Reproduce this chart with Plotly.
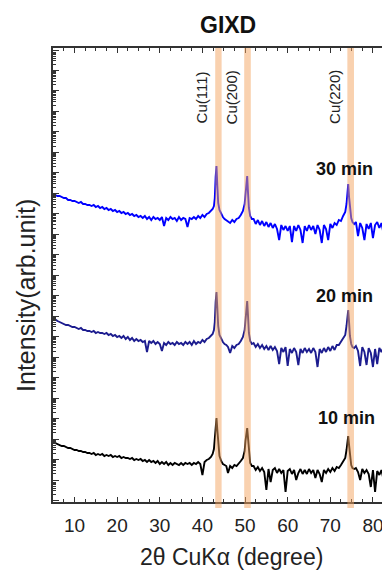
import math
import plotly.graph_objects as go

# ---------------- data ----------------
two_theta = [
    5.0, 5.5, 6.0, 6.5, 7.0, 7.5, 8.0, 8.5, 9.0, 9.5,
    10.0, 10.5, 11.0, 11.5, 12.0, 12.5, 13.0, 13.5, 14.0, 14.5,
    15.0, 15.5, 16.0, 16.5, 17.0, 17.5, 18.0, 18.5, 19.0, 19.5,
    20.0, 20.5, 21.0, 21.5, 22.0, 22.5, 23.0, 23.5, 24.0, 24.5,
    25.0, 25.5, 26.0, 26.5, 27.0, 27.5, 28.0, 28.5, 29.0, 29.5,
    30.0, 30.5, 31.0, 31.5, 32.0, 32.5, 33.0, 33.5, 34.0, 34.5,
    35.0, 35.5, 36.0, 36.5, 37.0, 37.5, 38.0, 38.5, 39.0, 39.5,
    40.0, 40.5, 41.0, 41.5, 42.0,
    42.4, 42.7, 42.9, 43.1, 43.3, 43.5, 43.7, 44.0, 44.4, 44.8, 45.2, 45.6,
    46.0, 46.5, 47.0, 47.5, 48.0, 48.5, 49.0, 49.5,
    49.9, 50.1, 50.3, 50.5, 50.7, 50.9, 51.2, 51.6,
    52.0, 52.5, 53.0, 53.5, 54.0, 54.5, 55.0, 55.5, 56.0, 56.5,
    57.0, 57.5, 58.0, 58.5, 59.0, 59.5, 60.0, 60.5, 61.0, 61.5,
    62.0, 62.5, 63.0, 63.5, 64.0, 64.5, 65.0, 65.5, 66.0, 66.5,
    67.0, 67.5, 68.0, 68.5, 69.0, 69.5, 70.0, 70.5, 71.0, 71.5,
    72.0, 72.5, 73.0,
    73.5, 73.8, 74.0, 74.2, 74.4, 74.6, 74.9, 75.2, 75.6,
    76.0, 76.5, 77.0, 77.5, 78.0, 78.5, 79.0, 79.5, 80.0, 80.5,
    81.0, 81.5, 82.0, 82.5, 83.0, 83.5, 84.0,
]

intensity_30min = [
    308, 307, 306, 306, 305, 304, 304, 302, 302, 301,
    301, 300, 299, 300, 298, 298, 297, 297, 296, 297,
    295, 296, 294, 295, 293, 294, 292, 293, 291, 292,
    290, 291, 289, 290, 288, 289, 287, 288, 286, 287,
    285, 286, 284, 286, 283, 285, 282, 285, 283, 284,
    282, 285, 276, 284, 282, 285, 283, 284, 281, 285,
    282, 284, 283, 275, 284, 283, 285, 283, 286, 284,
    287, 285, 288, 289, 291,
    293, 296, 304, 325, 336, 316, 299, 292, 288, 285, 283, 282,
    281, 279, 282, 280, 283, 284, 287, 291,
    298, 307, 320, 326, 309, 294, 286, 283,
    283, 278, 282, 277, 281, 276, 280, 275, 279, 274,
    278, 273, 262, 277, 272, 276, 271, 276, 260, 276,
    271, 277, 272, 259, 276, 271, 277, 272, 276, 268,
    277, 272, 259, 277, 273, 262, 278, 274, 279, 277,
    282, 281, 286,
    290, 298, 310, 318, 305, 292, 284, 280, 278,
    280, 266, 279, 274, 262, 278, 273, 279, 264, 277,
    280, 274, 279, 268, 278, 280, 275,
]

intensity_20min = [
    184, 182, 181, 180, 179, 178, 177, 177, 176, 175,
    175, 174, 173, 174, 172, 172, 171, 171, 170, 171,
    169, 170, 169, 169, 168, 169, 167, 168, 166, 167,
    165, 166, 164, 166, 163, 165, 162, 164, 161, 163,
    161, 162, 160, 161, 150, 161, 159, 161, 158, 160,
    158, 151, 159, 157, 160, 158, 159, 157, 160, 158,
    159, 157, 160, 158, 160, 157, 161, 158, 160, 159,
    162, 160, 163, 164, 166,
    168, 172, 180, 200, 210, 194, 176, 167, 163, 160, 158, 157,
    155, 149, 156, 154, 157, 158, 161, 165,
    172, 182, 195, 201, 186, 169, 161, 158,
    159, 155, 158, 154, 157, 153, 156, 152, 156, 152,
    155, 151, 138, 154, 150, 155, 136, 153, 149, 154,
    150, 137, 153, 149, 154, 150, 153, 149, 154, 150,
    135, 153, 149, 154, 150, 155, 151, 156, 152, 157,
    157, 160, 163,
    167, 176, 187, 192, 180, 166, 158, 155, 154,
    156, 151, 136, 155, 150, 137, 154, 149, 135, 153,
    138, 154, 150, 155, 136, 153, 150,
]

intensity_10min = [
    60, 59, 58, 57, 56, 56, 55, 54, 54, 53,
    52, 52, 51, 51, 50, 50, 49, 49, 48, 49,
    47, 48, 47, 48, 46, 47, 46, 47, 45, 46,
    45, 46, 44, 45, 44, 44, 43, 44, 42, 43,
    42, 43, 41, 42, 40, 42, 40, 41, 39, 41,
    38, 40, 38, 40, 37, 39, 37, 39, 38, 37,
    39, 37, 39, 38, 39, 37, 39, 38, 40, 38,
    27, 40, 42, 43, 45,
    48, 53, 62, 78, 84, 72, 56, 46, 41, 38, 37, 36,
    29, 36, 34, 37, 36, 38, 41, 44,
    51, 61, 71, 74, 64, 49, 39, 36,
    36, 32, 35, 31, 34, 30, 12, 33, 20, 32,
    34, 29, 33, 29, 32, 10, 31, 33, 28, 32,
    22, 29, 33, 28, 32, 28, 33, 29, 32, 24,
    32, 28, 20, 32, 29, 33, 30, 34, 31, 35,
    34, 37, 40,
    44, 52, 61, 66, 57, 45, 37, 34, 33,
    34, 30, 22, 33, 29, 32, 28, 15, 32, 10,
    31, 27, 32, 22, 30, 31, 27,
]

series_names = ["10 min", "20 min", "30 min"]
series_colors = ["#000000", "#1c1c8f", "#0000ff"]

peak_names = ["Cu(111)", "Cu(200)", "Cu(220)"]
peak_band_lo = [43.0, 49.8, 74.0]
peak_band_hi = [44.5, 51.35, 75.55]
peak_label_x = [39.76, 46.8, 70.84]
peak_label_y = 405

time_label_x = [73.8, 73.43, 73.43]
time_label_y = [84, 206, 333]

x_tickvals = [10, 20, 30, 40, 50, 60, 70, 80]
x_ticktext = ["10", "20", "30", "40", "50", "60", "70", "80"]

# ---------------- styling helpers (axis decoration only) ----------------
FONT = "Liberation Sans, Arial, sans-serif"
Y_MAX = 454
DECADE = 20.476
BASE = 1.5
y_major = [BASE + k * DECADE for k in range(23) if BASE + k * DECADE <= Y_MAX]
y_minor = []
for k in range(-1, 23):
    for m in range(2, 10):
        v = BASE + (k + math.log10(m)) * DECADE
        if 0 < v < Y_MAX:
            y_minor.append(v)

fig = go.Figure()
for name, vals, col in zip(series_names,
                           [intensity_10min, intensity_20min, intensity_30min],
                           series_colors):
    fig.add_trace(go.Scatter(x=two_theta, y=vals, mode="lines", name=name,
                             line=dict(color=col, width=1.9), showlegend=False))
# empty trace so the right-hand tick axis is drawn
fig.add_trace(go.Scatter(x=[], y=[], yaxis="y2", showlegend=False))

for lo, hi in zip(peak_band_lo, peak_band_hi):
    fig.add_shape(type="rect", xref="x", yref="paper", x0=lo, x1=hi,
                  y0=-0.013, y1=1.0, fillcolor="#F4A460", opacity=0.5,
                  line=dict(width=0), layer="above")

for name, lx in zip(peak_names, peak_label_x):
    fig.add_annotation(x=lx, y=peak_label_y, xref="x", yref="y", text=name,
                       textangle=-90, showarrow=False,
                       xanchor="center", yanchor="middle",
                       font=dict(family=FONT, size=15, color="#222"))

for name, tx, ty in zip(series_names, time_label_x, time_label_y):
    fig.add_annotation(x=tx, y=ty, xref="x", yref="y", text="<b>%s</b>" % name,
                       showarrow=False, xanchor="center", yanchor="middle",
                       font=dict(family=FONT, size=18, color="#111"))

fig.add_annotation(x=0.519, y=1.0507, xref="paper", yref="paper", text="<b>GIXD</b>",
                   showarrow=False, xanchor="center", yanchor="middle",
                   font=dict(family=FONT, size=23, color="#111"))
fig.add_annotation(x=0.531, y=-0.121, xref="paper", yref="paper",
                   text="2θ CuKα (degree)", showarrow=False,
                   xanchor="center", yanchor="middle",
                   font=dict(family=FONT, size=23, color="#222"))
fig.add_annotation(x=-0.080, y=0.454, xref="paper", yref="paper",
                   text="Intensity(arb.unit)", textangle=-90, showarrow=False,
                   xanchor="center", yanchor="middle",
                   font=dict(family=FONT, size=25, color="#222"))

# page body has an 8px default margin, so the figure is 8px smaller than the window
fig.update_layout(
    width=382, height=564,
    margin=dict(l=45, r=0, t=40, b=70),
    paper_bgcolor="white", plot_bgcolor="white",
    showlegend=False,
    xaxis=dict(range=[4.95, 84.0], showgrid=False, zeroline=False,
               showline=True, linecolor="#333", linewidth=1.5, mirror="ticks",
               ticks="inside", ticklen=5, tickwidth=1.2, tickcolor="#333",
               tickmode="array", tickvals=x_tickvals, ticktext=x_ticktext,
               ticklabelstandoff=5,
               tickfont=dict(family=FONT, size=19, color="#222"),
               minor=dict(tickmode="linear", tick0=0, dtick=2.5, ticks="inside",
                          ticklen=3, tickwidth=1, tickcolor="#333")),
    yaxis=dict(range=[0, Y_MAX], showgrid=False, zeroline=False,
               showline=True, linecolor="#333", linewidth=1.5, mirror=False,
               ticks="inside", ticklen=6, tickwidth=1.2, tickcolor="#333",
               tickmode="array", tickvals=y_major, showticklabels=False,
               minor=dict(tickmode="array", tickvals=y_minor, ticks="inside",
                          ticklen=3.5, tickwidth=1, tickcolor="#333")),
    yaxis2=dict(range=[0, Y_MAX], overlaying="y", side="right",
                showgrid=False, zeroline=False, showline=False,
                ticks="inside", ticklen=4, tickwidth=1, tickcolor="#333",
                tickmode="array", tickvals=y_major, showticklabels=False),
)

fig.write_html("out.html")
